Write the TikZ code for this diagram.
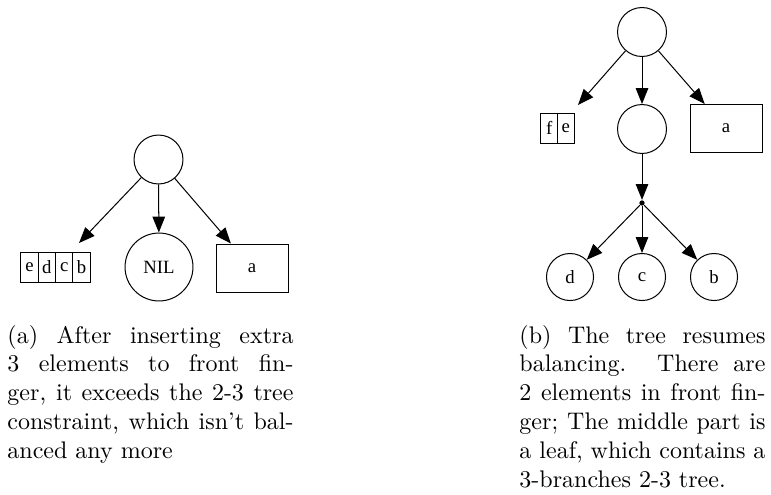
\documentclass[tikz,border=0pt]{standalone}
\usepackage{fontspec}
\usepackage{tikz}
\usetikzlibrary{arrows.meta,positioning}
\newfontfamily\gvfont{Liberation Serif}
\definecolor{ftInk}{RGB}{0,0,0}
\tikzset{
  ftcirc/.style={circle,draw=ftInk,line width=0.42pt,minimum size=20.4pt,inner sep=0pt,font=\gvfont\fontsize{7.8}{9}\selectfont},
  ftleaf/.style={ftcirc,minimum size=19.6pt},
  ftbox/.style={rectangle,draw=ftInk,line width=0.42pt,minimum width=30pt,minimum height=20pt,inner sep=0pt,font=\gvfont\fontsize{7.8}{9}\selectfont},
  ftcell/.style={rectangle,draw=ftInk,line width=0.42pt,outer sep=0pt,inner sep=0pt,font=\gvfont\fontsize{7.8}{9}\selectfont},
  ftdot/.style={circle,fill=ftInk,inner sep=0pt,minimum size=2.2pt},
  ftarrow/.style={-{Triangle[length=6.6pt,width=5.2pt]},draw=ftInk,line width=0.42pt},
  ftcap/.style={anchor=base west,inner sep=0pt,align=justify,font=\fontsize{10}{12}\selectfont}
}

\begin{document}
\begin{tikzpicture}[x=0.41667pt,y=-0.41667pt]
  \useasboundingbox (0,0) rectangle (771,494);
  % (a) front finger overflows
  \node[ftcirc] (rootA) at (158.5,159.5) {};
  \node[ftcirc,minimum size=28.3pt] (nilA) at (159,267) {NIL};
  \node[ftbox] (aA) at (252,268) {a};
  \node[ftcell,minimum width=7.2pt,minimum height=12.1pt] (eA) at (29.6,267.5) {e};
  \node[ftcell,minimum width=7.2pt,minimum height=12.1pt,right=0pt of eA] (dA) {d};
  \node[ftcell,minimum width=7.2pt,minimum height=12.1pt,right=0pt of dA] (cA) {c};
  \node[ftcell,minimum width=7.2pt,minimum height=12.1pt,right=0pt of cA] (bA) {b};
  \coordinate (listA) at (79,243);
  \draw[ftarrow] (rootA) -- (listA);
  \draw[ftarrow] (rootA) -- (nilA);
  \draw[ftarrow] (rootA) -- (aA);
  \node[ftcap,text width=119.2pt] (capA) at (7,343) {(a) After inserting extra\linebreak
    3 elements to front fin-\linebreak ger, it exceeds the 2-3 tree\linebreak
    constraint, which isn't bal-\linebreak anced any more};
  % (b) balanced again
  \node[ftcirc] (rootB) at (642,32) {};
  \node[ftcirc] (midB) at (642,129) {};
  \node[ftbox] (aB) at (726,128.5) {a};
  \node[ftcell,minimum width=6.9pt,minimum height=12.5pt] (fB) at (549.25,128) {f};
  \node[ftcell,minimum width=6.9pt,minimum height=12.5pt,right=0pt of fB] (eB) {e};
  \coordinate (listB) at (578,105);
  \node[ftdot] (dotB) at (642,203) {};
  \node[ftleaf] (dB) at (570,277) {d};
  \node[ftleaf] (cB) at (642,277) {c};
  \node[ftleaf] (bB) at (714,277) {b};
  \draw[ftarrow] (rootB) -- (listB);
  \draw[ftarrow] (rootB) -- (midB);
  \draw[ftarrow] (rootB) -- (aB);
  \draw[ftarrow] (midB) -- (dotB);
  \draw[ftarrow] (dotB) -- (dB);
  \draw[ftarrow] (dotB) -- (cB);
  \draw[ftarrow] (dotB) -- (bB);
  \node[ftcap,text width=102.5pt] (capB) at (519,343) {(b) The tree resumes\linebreak
    balancing. There are\linebreak 2 elements in front fin-\linebreak
    ger; The middle part is\linebreak a leaf, which contains a\linebreak
    3-branches 2-3 tree.};
\end{tikzpicture}
\end{document}
